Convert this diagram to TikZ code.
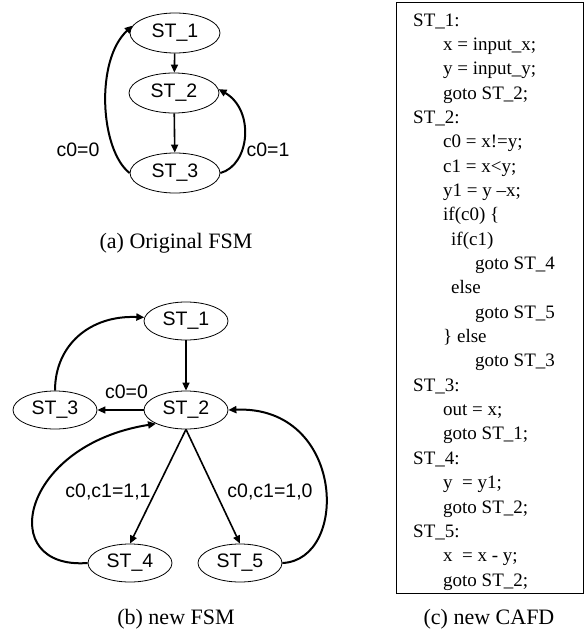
\documentclass[tikz,border=0pt]{standalone}
\usepackage{fontspec}
\setmainfont{Liberation Serif}
\setsansfont{Liberation Sans}
\usetikzlibrary{arrows.meta,shapes.geometric}
\tikzset{
  ar/.style={-{Triangle[length=8pt,width=7pt]},line width=1.6pt},
  arc/.style={ar,line width=2pt},
  st/.style={draw,ellipse,line width=0.8pt,minimum width=84pt,minimum height=38pt,inner sep=0pt,font=\sffamily\fontsize{19.5}{19.5}\selectfont},
  lbl/.style={font=\sffamily\fontsize{19.5}{19.5}\selectfont,inner sep=1pt},
  figcap/.style={anchor=base,inner sep=0pt,font=\fontsize{22}{22}\selectfont},
  code/.style={anchor=base west,inner sep=0pt,font=\fontsize{19}{19}\selectfont}
}

\begin{document}
\begin{tikzpicture}[x=1pt,y=-1pt]
\useasboundingbox (0,0) rectangle (586,629);
% (a) original FSM
\node[st,minimum width=90pt,minimum height=40pt] (a1) at (175,33) {ST\_1};
\node[st,minimum width=90pt,minimum height=40pt] (a2) at (174,93) {ST\_2};
\node[st,minimum width=90pt,minimum height=40pt] (a3) at (175,173) {ST\_3};
\draw[ar] (a1) -- (a2);
\draw[ar] (a2) -- (a3);
\draw[arc] (a3.west) .. controls (100,150) and (95,60) .. (a1.170);
\draw[arc] (a3.east) .. controls (250,165) and (255,110) .. (a2.5);
\node[lbl] (la0) at (78,150) {c0=0};
\node[lbl] (la1) at (268,150) {c0=1};
\node[figcap] (capa) at (176,248) {(a) Original FSM};
% (b) new FSM
\node[st] (b1) at (186,321) {ST\_1};
\node[st] (b2) at (186,410) {ST\_2};
\node[st] (b3) at (55,410) {ST\_3};
\node[st] (b4) at (130,563) {ST\_4};
\node[st] (b5) at (240,563) {ST\_5};
\draw[ar] (b1) -- (b2);
\draw[ar] (b2.west) -- (b3.east) node[lbl,above=10pt,pos=0.37] (lb0) {c0=0};
\draw[ar] (b2.south) -- (b4.north);
\draw[ar] (b2.south) -- (b5.north);
\draw[arc] (b3.north) .. controls (55,345) and (90,315) .. (b1.175);
\draw[arc] (b4.west) .. controls (-5,570) and (20,445) .. (b2.south west);
\draw[arc] (b5.east) .. controls (350,560) and (345,405) .. (b2.east);
\node[lbl] (lb1) at (108,492) {c0,c1=1,1};
\node[lbl] (lb2) at (270,492) {c0,c1=1,0};
\node[figcap] (capb) at (176,624) {(b) new FSM};
% (c) new CAFD
\draw[line width=0.8pt] (396,2) rectangle (583,593);
\foreach \cx/\ctxt [count=\i from 0] in {413/ST\_1:, 443/x = input\_x;, 443/y = input\_y;,
  443/goto ST\_2;, 413/ST\_2:, 443/c0 = x!=y;, 443/c1 = x<y;, 443/y1 = y –x;,
  443/if(c0) \{, 451/if(c1), 475/goto ST\_4, 451/else, 475/goto ST\_5, 443/\} else,
  475/goto ST\_3, 413/ST\_3:, 443/out = x;, 443/goto ST\_1;, 413/ST\_4:,
  443/y \ = y1;, 443/goto ST\_2;, 413/ST\_5:, 443/x \ = x - y;, 443/goto ST\_2;}
  \node[code] (c\i) at (\cx,26+24.35*\i) {\ctxt};
\node[figcap] (capc) at (489,624) {(c) new CAFD};
\end{tikzpicture}
\end{document}
